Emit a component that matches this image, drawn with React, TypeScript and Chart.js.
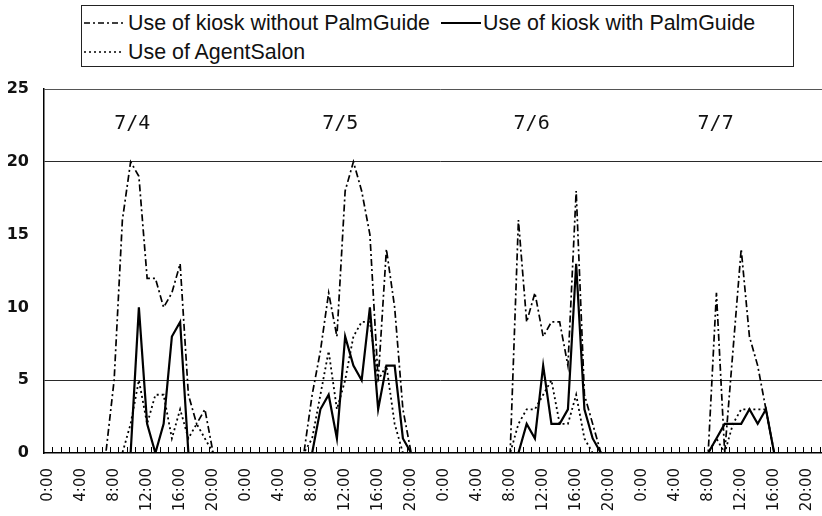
import React, { useEffect, useRef } from 'react';
import { Chart, registerables } from 'chart.js';

Chart.register(...registerables);

const hourLabels = [
  '0:00', '1:00', '2:00', '3:00', '4:00', '5:00', '6:00', '7:00',
  '8:00', '9:00', '10:00', '11:00', '12:00', '13:00', '14:00', '15:00',
  '16:00', '17:00', '18:00', '19:00', '20:00', '21:00', '22:00', '23:00',
];
const days = ['7/4', '7/5', '7/6', '7/7'];
const categories = days.flatMap(() => hourLabels);

const yTicks = [0, 5, 10, 15, 20, 25];

// Use of kiosk without PalmGuide (dash-dot)
const withoutPalmGuide = [
  0, 0, 0, 0, 0, 0, 0, 0, 5, 16, 20, 19, 12, 12, 10, 11, 13, 4, 2, 3, 0, 0, 0, 0,
  0, 0, 0, 0, 0, 0, 0, 0, 4, 7, 11, 8, 18, 20, 18, 15, 5, 14, 10, 3, 0, 0, 0, 0,
  0, 0, 0, 0, 0, 0, 0, 0, 0, 16, 9, 11, 8, 9, 9, 6, 18, 4, 2, 0, 0, 0, 0, 0,
  0, 0, 0, 0, 0, 0, 0, 0, 0, 11, 0, 7, 14, 8, 6, 3, 0, 0, 0, 0, 0, 0, 0, 0,
];

// Use of kiosk with PalmGuide (solid)
const withPalmGuide = [
  0, 0, 0, 0, 0, 0, 0, 0, 0, 0, 0, 10, 2, 0, 2, 8, 9, 0, 0, 0, 0, 0, 0, 0,
  0, 0, 0, 0, 0, 0, 0, 0, 0, 3, 4, 1, 8, 6, 5, 10, 3, 6, 6, 1, 0, 0, 0, 0,
  0, 0, 0, 0, 0, 0, 0, 0, 0, 0, 2, 1, 6, 2, 2, 3, 13, 3, 1, 0, 0, 0, 0, 0,
  0, 0, 0, 0, 0, 0, 0, 0, 0, 1, 2, 2, 2, 3, 2, 3, 0, 0, 0, 0, 0, 0, 0, 0,
];

// Use of AgentSalon (dotted)
const agentSalon = [
  0, 0, 0, 0, 0, 0, 0, 0, 0, 0, 2, 5, 2, 4, 4, 1, 3, 1, 2, 1, 0, 0, 0, 0,
  0, 0, 0, 0, 0, 0, 0, 0, 1, 4, 7, 3, 5, 8, 9, 9, 5, 6, 2, 0, 0, 0, 0, 0,
  0, 0, 0, 0, 0, 0, 0, 0, 0, 2, 3, 3, 4, 5, 2, 2, 4, 1, 0, 0, 0, 0, 0, 0,
  0, 0, 0, 0, 0, 0, 0, 0, 0, 1, 0, 2, 3, 3, 3, 3, 0, 0, 0, 0, 0, 0, 0, 0,
];

const seriesNames = [
  'Use of kiosk without PalmGuide',
  'Use of kiosk with PalmGuide',
  'Use of AgentSalon',
];

// date annotations: position along the category axis and height on the value axis
const dayLabelAt = [10.2, 35.4, 58.6, 80.9];
const dayLabelValue = 22.6;

const DASHDOT = [7, 3, 2, 3];
const DOTTED = [2, 3];

const insideTicksPlugin = {
  id: 'insideTicks',
  afterDatasetsDraw(chart: any) {
    const x = chart.scales.x;
    const ctx = chart.ctx;
    const bottom = chart.chartArea.bottom;
    ctx.save();
    ctx.strokeStyle = '#000';
    ctx.lineWidth = 1;
    ctx.beginPath();
    for (let i = 1; i <= categories.length; i++) {
      const px = Math.round(x.getPixelForValue(i - 0.5)) + 0.5;
      ctx.moveTo(px, bottom);
      ctx.lineTo(px, bottom - 6);
    }
    ctx.stroke();
    ctx.restore();
  },
};

const dayLabelsPlugin = {
  id: 'dayLabels',
  afterDraw(chart: any) {
    const x = chart.scales.x;
    const y = chart.scales.y;
    const ctx = chart.ctx;
    ctx.save();
    ctx.fillStyle = '#111';
    ctx.font = '20px "DejaVu Sans Mono", monospace';
    ctx.textAlign = 'center';
    ctx.textBaseline = 'middle';
    days.forEach((d, i) => {
      ctx.fillText(d, x.getPixelForValue(dayLabelAt[i]), y.getPixelForValue(dayLabelValue));
    });
    ctx.restore();
  },
};

function LegendSample({ dash, width }: { dash?: number[]; width: number }) {
  return (
    <svg width={40} height={10} style={{ position: 'absolute', left: 0, top: -5 }}>
      <line
        x1={0}
        y1={5}
        x2={40}
        y2={5}
        stroke="#000"
        strokeWidth={width}
        strokeDasharray={dash ? dash.join(' ') : undefined}
      />
    </svg>
  );
}

export default function App() {
  const canvasRef = useRef<HTMLCanvasElement | null>(null);

  useEffect(() => {
    if (!canvasRef.current) return;
    const chart = new Chart(canvasRef.current, {
      type: 'line',
      data: {
        labels: categories,
        datasets: [
          {
            label: seriesNames[0],
            data: withoutPalmGuide,
            borderColor: '#000',
            borderWidth: 1.7,
            borderDash: DASHDOT,
            pointRadius: 0,
            tension: 0,
            fill: false,
          },
          {
            label: seriesNames[1],
            data: withPalmGuide,
            borderColor: '#000',
            borderWidth: 2.2,
            pointRadius: 0,
            tension: 0,
            fill: false,
          },
          {
            label: seriesNames[2],
            data: agentSalon,
            borderColor: '#000',
            borderWidth: 1.8,
            borderDash: DOTTED,
            pointRadius: 0,
            tension: 0,
            fill: false,
          },
        ],
      },
      options: {
        responsive: false,
        animation: false,
        devicePixelRatio: 1,
        layout: { padding: { top: 89, right: 11, left: 0, bottom: 0 } },
        plugins: {
          legend: { display: false },
          tooltip: { enabled: false },
        },
        scales: {
          x: {
            type: 'category',
            offset: true,
            grid: { display: false, drawTicks: false },
            border: { display: true, color: '#000', width: 1.5 },
            ticks: {
              autoSkip: false,
              minRotation: 90,
              maxRotation: 90,
              padding: 15,
              color: '#111',
              font: { family: '"DejaVu Sans", sans-serif', size: 15 },
              callback: (_v: any, index: number) => (index % 4 === 0 ? categories[index] : ''),
            },
            afterFit: (s: any) => {
              s.height = 63;
            },
          },
          y: {
            min: 0,
            max: 25,
            afterBuildTicks: (s: any) => {
              s.ticks = yTicks.map((v) => ({ value: v }));
            },
            grid: {
              drawTicks: false,
              color: (c: any) =>
                c.tick && (c.tick.value === 5 || c.tick.value === 20)
                  ? '#2a2a2a'
                  : c.tick && c.tick.value === 25
                  ? '#555'
                  : 'rgba(0,0,0,0)',
              lineWidth: 1,
            },
            border: { display: true, color: '#000', width: 1.5 },
            ticks: {
              padding: 15,
              color: '#111',
              font: { family: '"DejaVu Sans", sans-serif', size: 16, weight: 'bold' },
            },
            afterFit: (s: any) => {
              s.width = 44;
            },
          },
        },
      },
      plugins: [insideTicksPlugin, dayLabelsPlugin],
    } as any);
    return () => chart.destroy();
  }, []);

  const textStyle: React.CSSProperties = {
    position: 'absolute',
    fontFamily: '"Liberation Sans", Arial, sans-serif',
    fontSize: 21.4,
    lineHeight: '24px',
    color: '#111',
    whiteSpace: 'nowrap',
    transform: 'translateY(-50%)',
  };

  return (
    <div
      style={{
        position: 'fixed',
        left: 0,
        top: 0,
        width: 822,
        height: 516,
        overflow: 'hidden',
        background: '#fff',
      }}
    >
      <canvas ref={canvasRef} width={865} height={516} style={{ position: 'absolute', left: 0, top: 0 }} />
      <div
        style={{
          position: 'absolute',
          left: 81,
          top: 5,
          width: 711,
          height: 60,
          border: '1px solid #222',
          background: '#fff',
        }}
      />
      <div style={{ position: 'absolute', left: 84, top: 23 }}>
        <LegendSample dash={[6, 3, 2, 3]} width={1.5} />
      </div>
      <div style={{ ...textStyle, left: 128, top: 23 }}>{seriesNames[0]}</div>
      <div style={{ position: 'absolute', left: 441, top: 23 }}>
        <LegendSample width={2} />
      </div>
      <div style={{ ...textStyle, left: 483, top: 23 }}>{seriesNames[1]}</div>
      <div style={{ position: 'absolute', left: 84, top: 52 }}>
        <LegendSample dash={[2, 3]} width={1.5} />
      </div>
      <div style={{ ...textStyle, left: 128, top: 52 }}>{seriesNames[2]}</div>
    </div>
  );
}
